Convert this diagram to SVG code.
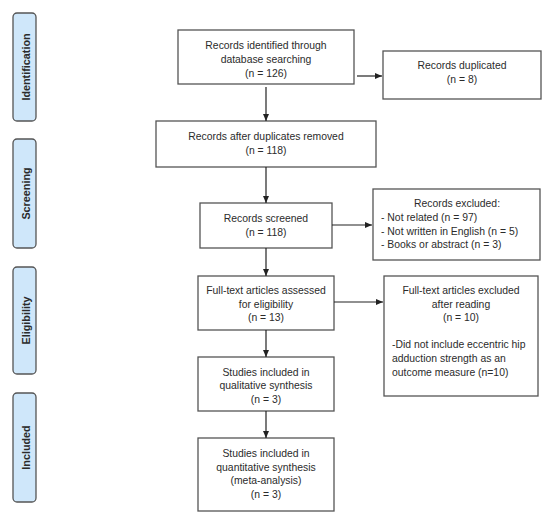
<svg xmlns="http://www.w3.org/2000/svg" width="550" height="517" viewBox="0 0 550 517">
<style>
.box{fill:#fff;stroke:#555;stroke-width:1.3}
.side{fill:#cfe7fa;stroke:#555;stroke-width:1.3}
text{font-family:"Liberation Sans",Arial,sans-serif;font-size:10.4px;fill:#2b2b2b}
.c{text-anchor:middle}
.st{font-weight:bold;font-size:10.8px;text-anchor:middle;fill:#2b2b2b}
.ln{stroke:#222;stroke-width:1.2;fill:none;marker-end:url(#ah)}
</style>
<defs>
<marker id="ah" markerWidth="8" markerHeight="8" refX="7" refY="4" orient="auto" markerUnits="userSpaceOnUse">
<path d="M0,1 L7,4 L0,7 Z" fill="#222"/>
</marker>
</defs>
<rect width="550" height="517" fill="#fff"/>
<g id="side-identification"><rect class="side" x="13" y="13" width="23" height="108" rx="4"/><text class="st" transform="translate(29.5,67) rotate(-90)">Identification</text></g>
<g id="side-screening"><rect class="side" x="13" y="139" width="23" height="109" rx="4"/><text class="st" transform="translate(29.5,193.5) rotate(-90)">Screening</text></g>
<g id="side-eligibility"><rect class="side" x="13" y="267" width="23" height="107" rx="4"/><text class="st" transform="translate(29.5,320.5) rotate(-90)">Eligibility</text></g>
<g id="side-included"><rect class="side" x="13" y="393" width="23" height="109" rx="4"/><text class="st" transform="translate(29.5,447.5) rotate(-90)">Included</text></g>

<g id="identified"><rect class="box" x="178" y="30" width="176" height="54"/>
<text class="c" x="266" y="48.5">Records identified through</text>
<text class="c" x="266" y="62.5">database searching</text>
<text class="c" x="266" y="76.5">(n = 126)</text></g>
<g id="duplicated"><rect class="box" x="383" y="51" width="158" height="48"/>
<text class="c" x="462" y="68.5">Records duplicated</text>
<text class="c" x="462" y="82.5">(n = 8)</text></g>
<g id="after-dup"><rect class="box" x="156" y="121" width="220" height="46"/>
<text class="c" x="266" y="139.5">Records after duplicates removed</text>
<text class="c" x="266" y="153.5">(n = 118)</text></g>
<g id="screened"><rect class="box" x="200" y="203" width="132" height="45"/>
<text class="c" x="266" y="221.5">Records screened</text>
<text class="c" x="266" y="235.5">(n = 118)</text></g>
<g id="excluded"><rect class="box" x="373" y="189" width="167" height="71"/>
<text class="c" x="457" y="206.5">Records excluded:</text>
<text x="381" y="220.5">- Not related (n = 97)</text>
<text x="381" y="234.5">- Not written in English (n = 5)</text>
<text x="381" y="247.5">- Books or abstract (n = 3)</text></g>
<g id="assessed"><rect class="box" x="198" y="276" width="136" height="54"/>
<text class="c" x="266" y="293.5">Full-text articles assessed</text>
<text class="c" x="266" y="307.5">for eligibility</text>
<text class="c" x="266" y="320.5">(n = 13)</text></g>
<g id="ft-excluded"><rect class="box" x="384" y="276" width="154" height="120"/>
<text class="c" x="461" y="293.5">Full-text articles excluded</text>
<text class="c" x="461" y="307.5">after reading</text>
<text class="c" x="461" y="320.5">(n = 10)</text>
<text x="392" y="347.5">-Did not include eccentric hip</text>
<text x="392" y="361.5">adduction strength as an</text>
<text x="392" y="375.5">outcome measure (n=10)</text></g>
<g id="qualitative"><rect class="box" x="198" y="357" width="136" height="54"/>
<text class="c" x="266" y="375.5">Studies included in</text>
<text class="c" x="266" y="388.5">qualitative synthesis</text>
<text class="c" x="266" y="402.5">(n = 3)</text></g>
<g id="quantitative"><rect class="box" x="198" y="438" width="136" height="73"/>
<text class="c" x="266" y="456.5">Studies included in</text>
<text class="c" x="266" y="470.5">quantitative synthesis</text>
<text class="c" x="266" y="483.5">(meta-analysis)</text>
<text class="c" x="266" y="497.5">(n = 3)</text></g>

<g id="connectors">
<line class="ln" x1="266" y1="87" x2="266" y2="121"/>
<line class="ln" x1="266" y1="167" x2="266" y2="203"/>
<line class="ln" x1="266" y1="248" x2="266" y2="276"/>
<line class="ln" x1="266" y1="330" x2="266" y2="357"/>
<line class="ln" x1="266" y1="411" x2="266" y2="438"/>
<line class="ln" x1="357" y1="76" x2="382" y2="76"/>
<line class="ln" x1="332" y1="225" x2="372" y2="225"/>
<line class="ln" x1="334" y1="302" x2="383" y2="302"/>
</g>
</svg>
